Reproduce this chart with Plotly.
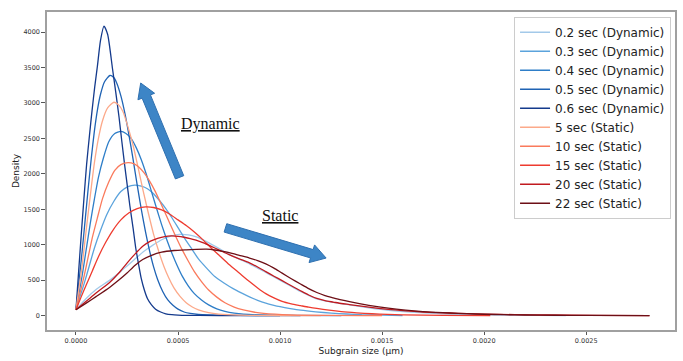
import plotly.graph_objects as go

# ---- data (x in µm, y = density) ----
names = ["0.2 sec (Dynamic)", "0.3 sec (Dynamic)", "0.4 sec (Dynamic)", "0.5 sec (Dynamic)",
         "0.6 sec (Dynamic)", "5 sec (Static)", "10 sec (Static)", "15 sec (Static)",
         "20 sec (Static)", "22 sec (Static)"]
colors = ["#a3c9e9", "#5ba3dc", "#2e7ec8", "#1f63b4", "#143a8c",
          "#fca98a", "#fa7a5c", "#ee3b2f", "#c11a1f", "#6d0f16"]

x_02 = [0, 0.5e-4, 1.0e-4, 1.66e-4, 2.1e-4, 2.5e-4, 2.9e-4, 3.3e-4, 3.75e-4, 4.2e-4, 4.65e-4, 5.07e-4,
        5.5e-4, 5.9e-4, 6.35e-4, 6.8e-4, 7.2e-4, 7.6e-4, 8.05e-4, 8.5e-4, 8.9e-4, 9.3e-4, 9.7e-4,
        10.1e-4, 10.55e-4, 11.0e-4, 11.4e-4, 11.8e-4, 12.6e-4, 13.4e-4, 14.35e-4, 15.3e-4, 16.6e-4,
        18e-4, 19.5e-4, 21e-4, 24e-4]
y_02 = [82, 240, 370, 500, 600, 700, 800, 900, 990, 1070, 1120, 1145, 1140, 1110, 1050, 980, 915, 850,
        790, 730, 670, 610, 545, 480, 410, 340, 285, 235, 185, 150, 110, 75, 45, 25, 13, 6, 0]

x_03 = [0, 0.2e-4, 0.4e-4, 0.65e-4, 0.9e-4, 1.2e-4, 1.5e-4, 1.85e-4, 2.2e-4, 2.55e-4, 2.88e-4, 3.2e-4,
        3.5e-4, 3.8e-4, 4.1e-4, 4.4e-4, 4.7e-4, 5.0e-4, 5.3e-4, 5.65e-4, 6.0e-4, 6.4e-4, 6.8e-4, 7.25e-4,
        7.7e-4, 8.1e-4, 8.5e-4, 8.9e-4, 9.3e-4, 9.65e-4, 10.0e-4, 10.5e-4, 11.0e-4, 11.75e-4, 12.5e-4,
        13.25e-4, 14e-4, 16e-4]
y_03 = [82, 270, 450, 700, 950, 1200, 1420, 1610, 1750, 1820, 1840, 1825, 1790, 1720, 1620, 1510, 1380,
        1240, 1100, 950, 800, 670, 550, 460, 380, 320, 264, 215, 175, 148, 125, 98, 75, 52, 35, 22, 12, 0]

x_04 = [0, 0.15e-4, 0.3e-4, 0.5e-4, 0.7e-4, 0.9e-4, 1.1e-4, 1.35e-4, 1.6e-4, 1.9e-4, 2.2e-4, 2.45e-4,
        2.7e-4, 2.95e-4, 3.2e-4, 3.45e-4, 3.7e-4, 3.95e-4, 4.2e-4, 4.45e-4, 4.7e-4, 4.95e-4, 5.2e-4,
        5.5e-4, 5.8e-4, 6.15e-4, 6.5e-4, 6.9e-4, 7.3e-4, 7.75e-4, 8.2e-4, 9.5e-4, 13e-4]
y_04 = [82, 320, 560, 930, 1300, 1640, 1950, 2230, 2450, 2570, 2600, 2570, 2500, 2370, 2200, 1990, 1750,
        1510, 1280, 1070, 880, 710, 560, 420, 310, 220, 150, 95, 60, 35, 20, 5, 0]

x_05 = [0, 0.15e-4, 0.3e-4, 0.45e-4, 0.6e-4, 0.75e-4, 0.9e-4, 1.05e-4, 1.2e-4, 1.4e-4, 1.66e-4, 1.85e-4,
        2.0e-4, 2.2e-4, 2.4e-4, 2.6e-4, 2.8e-4, 3.0e-4, 3.2e-4, 3.4e-4, 3.6e-4, 3.8e-4, 4.0e-4, 4.25e-4,
        4.5e-4, 4.75e-4, 5.0e-4, 5.3e-4, 5.6e-4, 6.0e-4, 6.5e-4, 7.2e-4, 8.0e-4, 11e-4]
y_05 = [82, 490, 900, 1350, 1800, 2220, 2600, 2900, 3120, 3300, 3388, 3360, 3280, 3100, 2850, 2540, 2200,
        1840, 1500, 1190, 920, 690, 510, 340, 220, 145, 90, 50, 30, 15, 8, 3, 1, 0]

x_06 = [0, 0.13e-4, 0.26e-4, 0.39e-4, 0.52e-4, 0.66e-4, 0.79e-4, 0.92e-4, 1.05e-4, 1.2e-4, 1.37e-4,
        1.55e-4, 1.79e-4, 1.95e-4, 2.11e-4, 2.25e-4, 2.39e-4, 2.52e-4, 2.64e-4, 2.8e-4, 2.93e-4, 3.07e-4,
        3.2e-4, 3.35e-4, 3.5e-4, 3.7e-4, 3.9e-4, 4.15e-4, 4.4e-4, 4.7e-4, 5.0e-4, 5.5e-4, 6.0e-4, 8.0e-4,
        10e-4]
y_06 = [82, 620, 1150, 1650, 2130, 2540, 2900, 3230, 3520, 3880, 4086, 3970, 3483, 3150, 2798, 2450, 2112,
        1820, 1550, 1230, 950, 720, 520, 360, 240, 150, 90, 50, 25, 12, 6, 2, 1, 0, 0]

x_5s = [0, 0.15e-4, 0.3e-4, 0.45e-4, 0.6e-4, 0.75e-4, 0.9e-4, 1.1e-4, 1.3e-4, 1.55e-4, 1.86e-4, 2.1e-4,
        2.3e-4, 2.55e-4, 2.8e-4, 3.05e-4, 3.3e-4, 3.55e-4, 3.8e-4, 4.05e-4, 4.3e-4, 4.55e-4, 4.8e-4,
        5.1e-4, 5.4e-4, 5.7e-4, 6.0e-4, 6.5e-4, 7.0e-4, 8.0e-4, 12e-4]
y_5s = [82, 390, 700, 1080, 1450, 1810, 2150, 2500, 2750, 2930, 3010, 2970, 2880, 2660, 2400, 2080, 1750,
        1440, 1150, 910, 700, 530, 390, 270, 180, 120, 80, 40, 20, 5, 0]

x_10s = [0, 0.2e-4, 0.4e-4, 0.6e-4, 0.8e-4, 1.05e-4, 1.3e-4, 1.6e-4, 1.9e-4, 2.2e-4, 2.55e-4, 2.85e-4,
         3.1e-4, 3.35e-4, 3.6e-4, 3.85e-4, 4.1e-4, 4.35e-4, 4.6e-4, 4.9e-4, 5.2e-4, 5.5e-4, 5.8e-4,
         6.15e-4, 6.5e-4, 6.9e-4, 7.3e-4, 7.75e-4, 8.2e-4, 8.7e-4, 9.2e-4, 10.5e-4, 15e-4]
y_10s = [82, 320, 560, 830, 1100, 1380, 1650, 1880, 2050, 2130, 2159, 2140, 2090, 2010, 1900, 1770, 1620,
         1460, 1300, 1110, 930, 770, 620, 480, 360, 260, 180, 120, 80, 50, 30, 10, 0]

x_15s = [0, 0.25e-4, 0.5e-4, 0.8e-4, 1.1e-4, 1.45e-4, 1.8e-4, 2.2e-4, 2.6e-4, 3.0e-4, 3.42e-4, 3.8e-4,
         4.2e-4, 4.6e-4, 5.0e-4, 5.4e-4, 5.8e-4, 6.2e-4, 6.6e-4, 7.05e-4, 7.5e-4, 8.0e-4, 8.5e-4, 8.9e-4,
         9.3e-4, 9.7e-4, 10.1e-4, 10.55e-4, 11.0e-4, 11.4e-4, 11.8e-4, 12.4e-4, 13.0e-4, 13.75e-4,
         14.5e-4, 15.25e-4, 16e-4, 18e-4, 20.3e-4]
y_15s = [82, 260, 430, 630, 830, 1030, 1200, 1350, 1450, 1510, 1534, 1525, 1490, 1430, 1350, 1270, 1180,
         1075, 960, 840, 720, 600, 480, 390, 310, 250, 200, 165, 140, 118, 100, 75, 55, 38, 25, 16, 10, 3, 0]

x_20s = [0, 0.5e-4, 1.0e-4, 1.66e-4, 2.1e-4, 2.5e-4, 2.9e-4, 3.27e-4, 3.65e-4, 4.0e-4, 4.35e-4, 4.67e-4,
         5.0e-4, 5.3e-4, 5.6e-4, 5.88e-4, 6.25e-4, 6.6e-4, 7.05e-4, 7.5e-4, 8.0e-4, 8.5e-4, 8.9e-4,
         9.3e-4, 9.7e-4, 10.1e-4, 10.55e-4, 11.0e-4, 11.4e-4, 11.8e-4, 12.2e-4, 12.6e-4, 13.0e-4,
         13.4e-4, 14.35e-4, 15.3e-4, 16.15e-4, 17e-4, 17.65e-4, 18.3e-4, 19.15e-4, 20e-4, 21.5e-4,
         23e-4, 25.5e-4, 28.1e-4]
y_20s = [82, 200, 320, 470, 600, 740, 870, 977, 1050, 1090, 1115, 1123, 1118, 1105, 1087, 1063, 1025,
         980, 920, 860, 800, 744, 685, 620, 555, 493, 420, 350, 290, 241, 210, 190, 170, 155, 118, 86,
         66, 50, 42, 36, 28, 20, 13, 8, 3, 0]

x_22s = [0, 0.5e-4, 1.0e-4, 1.66e-4, 2.1e-4, 2.5e-4, 2.9e-4, 3.27e-4, 3.7e-4, 4.2e-4, 4.8e-4, 5.4e-4,
         5.9e-4, 6.4e-4, 6.8e-4, 7.2e-4, 7.6e-4, 8.0e-4, 8.5e-4, 8.9e-4, 9.3e-4, 9.7e-4, 10.1e-4,
         10.55e-4, 11.0e-4, 11.4e-4, 11.8e-4, 12.2e-4, 12.6e-4, 13.0e-4, 13.4e-4, 14.35e-4, 15.3e-4,
         16.15e-4, 17e-4, 17.65e-4, 18.3e-4, 19.15e-4, 20e-4, 21e-4, 22e-4, 23.5e-4, 25e-4, 28.1e-4]
y_22s = [82, 175, 270, 400, 500, 600, 710, 790, 850, 895, 918, 928, 934, 936, 925, 905, 880, 850, 812,
         775, 730, 670, 598, 520, 445, 380, 325, 282, 250, 220, 195, 145, 104, 76, 55, 45, 36, 26, 18,
         12, 8, 4, 2, 0]

xs = [x_02, x_03, x_04, x_05, x_06, x_5s, x_10s, x_15s, x_20s, x_22s]
ys = [y_02, y_03, y_04, y_05, y_06, y_5s, y_10s, y_15s, y_20s, y_22s]

x_ticks = [0.0, 0.0005, 0.0010, 0.0015, 0.0020, 0.0025]
y_ticks = [0, 500, 1000, 1500, 2000, 2500, 3000, 3500, 4000]

# ---- geometry ----
W, H = 683, 361
L, R, T, B = 47, 6, 12, 22
XR = [-0.000142, 0.002935]
YR = [-204, 4284]
pw, ph = W - L - R, H - T - B


def px2data(px, py):
    return (XR[0] + (px - L) / pw * (XR[1] - XR[0]),
            YR[1] - (py - T) / ph * (YR[1] - YR[0]))


def block_arrow(tail, tip, shaft_hw, head_hw, head_len):
    dx, dy = tip[0] - tail[0], tip[1] - tail[1]
    ln = (dx * dx + dy * dy) ** 0.5
    ux, uy = dx / ln, dy / ln
    nx, ny = -uy, ux
    bx, by = tip[0] - ux * head_len, tip[1] - uy * head_len
    pts = [
        (tail[0] + nx * shaft_hw, tail[1] + ny * shaft_hw),
        (bx + nx * shaft_hw, by + ny * shaft_hw),
        (bx + nx * head_hw, by + ny * head_hw),
        tip,
        (bx - nx * head_hw, by - ny * head_hw),
        (bx - nx * shaft_hw, by - ny * shaft_hw),
        (tail[0] - nx * shaft_hw, tail[1] - ny * shaft_hw),
    ]
    d = []
    for i, (px, py) in enumerate(pts):
        x, y = px2data(px, py)
        d.append(("M" if i == 0 else "L") + f"{x:.8f},{y:.3f}")
    return " ".join(d) + " Z"


fig = go.Figure()
for name, c, x, y in zip(names, colors, xs, ys):
    fig.add_trace(go.Scatter(x=x, y=y, mode="lines", name=name,
                             line=dict(color=c, width=1.3, shape="spline", smoothing=0.6)))

arrow_style = dict(type="path", xref="x", yref="y", fillcolor="#3d85c6",
                   line=dict(color="#2f70b0", width=1), layer="above")
fig.add_shape(path=block_arrow((180, 182), (141, 85), 4.5, 9, 15), **arrow_style)
fig.add_shape(path=block_arrow((226, 234), (327, 265), 4.5, 9.5, 15), **arrow_style)

ax_font = dict(family="DejaVu Sans", size=6.5, color="#333333")
dx_, dy_ = px2data(211, 127)
fig.add_annotation(x=dx_, y=dy_, text="<u>Dynamic</u>", showarrow=False,
                   font=dict(family="Liberation Serif", size=16, color="#111111"))
sx_, sy_ = px2data(280.5, 221)
fig.add_annotation(x=sx_, y=sy_, text="<u>Static</u>", showarrow=False,
                   font=dict(family="Liberation Serif", size=16, color="#111111"))

fig.update_layout(
    width=W, height=H,
    margin=dict(l=L, r=R, t=T, b=B),
    paper_bgcolor="white", plot_bgcolor="white",
    font=dict(family="DejaVu Sans"),
    legend=dict(x=0.9937, y=0.985, xanchor="right", yanchor="top",
                bgcolor="rgba(255,255,255,0.9)", bordercolor="#cccccc", borderwidth=1,
                font=dict(family="DejaVu Sans", size=12, color="#222222"),
                itemwidth=30, tracegroupgap=0),
    xaxis=dict(range=XR, tickvals=x_ticks, ticktext=[f"{v:.4f}" for v in x_ticks],
               showgrid=False, zeroline=False, showline=True, mirror=True,
               linecolor="#a0a0a0", linewidth=1.5, ticks="outside", ticklen=3,
               tickcolor="#555555", tickfont=ax_font,
               title=dict(text="Subgrain size (μm)", standoff=4,
                          font=dict(family="DejaVu Sans", size=9, color="#222222"))),
    yaxis=dict(range=YR, tickvals=y_ticks, ticktext=[str(v) for v in y_ticks],
               showgrid=False, zeroline=False, showline=True, mirror=True,
               linecolor="#a0a0a0", linewidth=1.5, ticks="outside", ticklen=4,
               tickcolor="#555555", tickfont=ax_font,
               title=dict(text="Density", standoff=2,
                          font=dict(family="DejaVu Sans", size=9, color="#222222"))),
)

fig.write_html("out.html")
